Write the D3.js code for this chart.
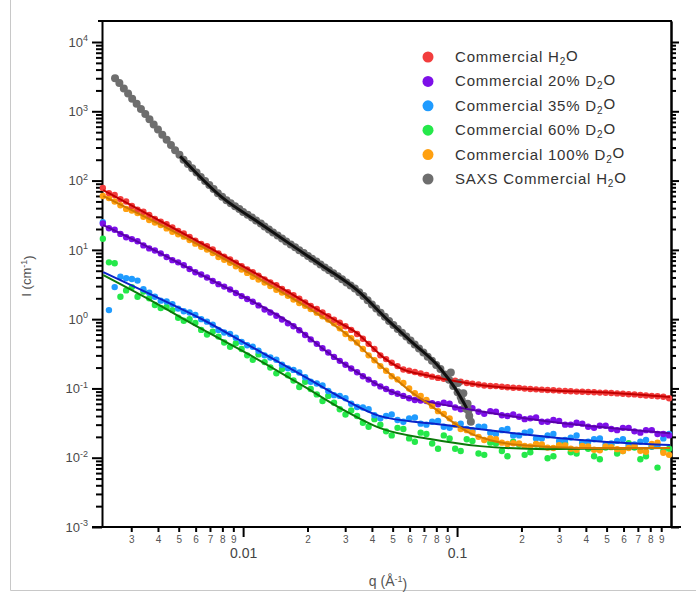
<!DOCTYPE html>
<html>
<head>
<meta charset="utf-8">
<script src="https://cdn.jsdelivr.net/npm/d3@7"></script>
<style>
  body { margin: 0; background: #fff; }
  svg { display: block; font-family: "Liberation Sans", Arial, sans-serif; }
</style>
</head>
<body>
<div id="chart"></div>
<script>
// SANS q values (1/A), two interleaved sets of detector points
const qGrid = [0.00221, 0.00251, 0.00284, 0.00321, 0.00364, 0.00412, 0.00467, 0.00528, 0.00598, 0.00678,
  0.00767, 0.00869, 0.00984, 0.0111, 0.0126, 0.0143, 0.0162, 0.0183, 0.0207, 0.0235,
  0.0266, 0.0301, 0.0341, 0.0386, 0.0438, 0.0495, 0.0561, 0.0635, 0.0719, 0.0815,
  0.0923, 0.104, 0.118, 0.134, 0.152, 0.172, 0.195, 0.220, 0.249, 0.282,
  0.320, 0.362, 0.410, 0.465, 0.526, 0.596, 0.675, 0.764, 0.865, 0.980];
const qMid = [0.00236, 0.00267, 0.00302, 0.00342, 0.00387, 0.00439, 0.00497, 0.00562, 0.00637, 0.00721,
  0.00816, 0.00925, 0.01045, 0.0118, 0.0134, 0.0152, 0.0172, 0.0195, 0.0221, 0.0250,
  0.0283, 0.0320, 0.0363, 0.0411, 0.0466, 0.0527, 0.0597, 0.0676, 0.0765, 0.0867,
  0.0980, 0.111, 0.126, 0.143, 0.162, 0.183, 0.207, 0.234, 0.265, 0.300,
  0.340, 0.385, 0.437, 0.495, 0.560, 0.634, 0.719, 0.813, 0.921];

const redI = [78, 62, 50, 38, 32, 25.5, 21, 17.2, 13.6, 11.3,
  8.9, 7.3, 5.8, 4.75, 3.75, 3.08, 2.44, 1.98, 1.55, 1.25,
  0.98, 0.79, 0.61, 0.44, 0.30, 0.235, 0.188, 0.173, 0.156, 0.142,
  0.134, 0.125, 0.117, 0.110, 0.108, 0.104, 0.102, 0.098, 0.096, 0.094,
  0.092, 0.090, 0.089, 0.087, 0.086, 0.084, 0.082, 0.079, 0.077, 0.072];
const redMid = [66, 54, 43, 35.5, 28, 23.5, 18.8, 15.4, 12.2, 10.1,
  8.0, 6.5, 5.2, 4.25, 3.38, 2.72, 2.21, 1.74, 1.40, 1.10,
  0.885, 0.70, 0.52, 0.37, 0.265, 0.21, 0.180, 0.164, 0.148, 0.138,
  0.129, 0.120, 0.114, 0.1085, 0.106, 0.1025, 0.0995, 0.097, 0.0948, 0.093,
  0.091, 0.0895, 0.088, 0.0866, 0.0848, 0.0826, 0.0805, 0.0782, 0.076];

const purpleI = [24, 19.5, 15.2, 13.3, 10.5, 8.9, 7.1, 6.0, 4.75, 4.0,
  3.2, 2.68, 2.15, 1.78, 1.38, 1.12, 0.87, 0.69, 0.51, 0.38,
  0.285, 0.22, 0.171, 0.134, 0.107, 0.089, 0.078, 0.068, 0.066, 0.059,
  0.060, 0.050, 0.052, 0.043, 0.046, 0.040, 0.039, 0.037, 0.033, 0.035,
  0.030, 0.032, 0.028, 0.029, 0.026, 0.027, 0.024, 0.025, 0.022, 0.021];
const purpleMid = [20.5, 17.0, 14.3, 11.6, 9.8, 7.9, 6.6, 5.3, 4.4, 3.55,
  2.95, 2.38, 1.95, 1.58, 1.25, 0.99, 0.79, 0.59, 0.44, 0.33,
  0.25, 0.194, 0.15, 0.119, 0.098, 0.084, 0.072, 0.067, 0.061, 0.062,
  0.053, 0.054, 0.046, 0.047, 0.041, 0.042, 0.036, 0.038, 0.033, 0.034,
  0.030, 0.031, 0.027, 0.029, 0.025, 0.027, 0.023, 0.025, 0.022];

const blueI = [25, 2.9, 3.9, 3.6, 2.4, 1.85, 1.65, 1.30, 1.15, 0.92,
  0.70, 0.61, 0.47, 0.40, 0.30, 0.26, 0.195, 0.17, 0.125, 0.11,
  0.08, 0.072, 0.054, 0.05, 0.037, 0.042, 0.033, 0.038, 0.030, 0.034,
  0.027, 0.031, 0.025, 0.028, 0.022, 0.026, 0.021, 0.024, 0.019, 0.022,
  0.018, 0.021, 0.017, 0.019, 0.016, 0.0185, 0.0155, 0.018, 0.015, 0.022];
const blueMid = [1.35, 4.1, 3.8, 2.7, 2.1, 1.80, 1.42, 1.25, 1.0, 0.83,
  0.64, 0.54, 0.42, 0.35, 0.28, 0.22, 0.185, 0.145, 0.118, 0.092,
  0.078, 0.06, 0.053, 0.041, 0.040, 0.035, 0.037, 0.031, 0.033, 0.028,
  0.030, 0.026, 0.028, 0.023, 0.025, 0.021, 0.023, 0.019, 0.021, 0.0175,
  0.0195, 0.0165, 0.0185, 0.0155, 0.0175, 0.015, 0.017, 0.0145, 0.019];

const greenI = [14.5, 6.4, 2.6, 2.1, 2.0, 1.45, 1.35, 0.95, 0.88, 0.60,
  0.56, 0.40, 0.37, 0.26, 0.24, 0.165, 0.155, 0.105, 0.098, 0.066,
  0.062, 0.042, 0.040, 0.028, 0.030, 0.021, 0.026, 0.017, 0.022, 0.0135,
  0.019, 0.0125, 0.0175, 0.011, 0.016, 0.0105, 0.0155, 0.012, 0.0145, 0.0105,
  0.016, 0.0115, 0.0135, 0.0095, 0.0155, 0.0125, 0.014, 0.0105, 0.0072, 0.0135];
const greenMid = [6.6, 2.1, 2.9, 2.5, 1.6, 1.5, 1.05, 1.0, 0.7, 0.66,
  0.46, 0.45, 0.30, 0.31, 0.20, 0.19, 0.13, 0.125, 0.082, 0.078,
  0.05, 0.048, 0.032, 0.036, 0.024, 0.027, 0.019, 0.023, 0.016, 0.021,
  0.0135, 0.0185, 0.0115, 0.0165, 0.0125, 0.017, 0.011, 0.0155, 0.0098, 0.015,
  0.012, 0.0165, 0.0105, 0.014, 0.0115, 0.0162, 0.0095, 0.0145, 0.0125];

const orangeI = [60, 50, 39, 34, 27, 22.8, 18.3, 15.5, 12.3, 10.1,
  7.9, 6.5, 5.2, 4.1, 3.38, 2.65, 2.17, 1.71, 1.40, 1.10,
  0.87, 0.61, 0.46, 0.30, 0.21, 0.15, 0.12, 0.085, 0.068, 0.047,
  0.037, 0.026, 0.023, 0.018, 0.0185, 0.0158, 0.016, 0.0145, 0.0155, 0.0138,
  0.015, 0.013, 0.0145, 0.0128, 0.0142, 0.0125, 0.0148, 0.0122, 0.0165, 0.011];
const orangeMid = [56, 44, 37, 30, 24.8, 20.4, 16.8, 13.9, 11.1, 9.0,
  7.2, 5.8, 4.65, 3.72, 3.0, 2.42, 1.92, 1.56, 1.24, 0.99,
  0.74, 0.53, 0.37, 0.255, 0.18, 0.135, 0.10, 0.078, 0.056, 0.043,
  0.030, 0.025, 0.020, 0.019, 0.0165, 0.0162, 0.0148, 0.0158, 0.014, 0.0152,
  0.0135, 0.0148, 0.013, 0.0145, 0.0133, 0.0138, 0.0126, 0.0158, 0.0118];

// SAXS data (own q range)
const saxsQ = [0.00252, 0.00264, 0.00277, 0.00290, 0.00303, 0.00318, 0.00333, 0.00349, 0.00365, 0.00382,
  0.00400, 0.00419, 0.00439, 0.00460, 0.00481, 0.00504, 0.00527, 0.00552, 0.00578, 0.00606,
  0.00634, 0.00664, 0.00695, 0.00728, 0.00762, 0.00798, 0.00836, 0.00875, 0.00917, 0.00960,
  0.0100, 0.0105, 0.0110, 0.0115, 0.0121, 0.0126, 0.0132, 0.0138, 0.0145, 0.0152,
  0.0159, 0.0167, 0.0175, 0.0183, 0.0192, 0.0201, 0.0210, 0.0220, 0.0230, 0.0241,
  0.0252, 0.0264, 0.0277, 0.0290, 0.0304, 0.0318, 0.0333, 0.0349, 0.0365, 0.0382,
  0.0400, 0.0419, 0.0439, 0.0460, 0.0481, 0.0504, 0.0528, 0.0553, 0.0579, 0.0606,
  0.0634, 0.0664, 0.0696, 0.0729, 0.0763, 0.0799, 0.0836, 0.0876, 0.0917, 0.0960,
  0.1006, 0.1053, 0.1103, 0.0935, 0.097, 0.101, 0.104, 0.107, 0.109, 0.112, 0.114, 0.116, 0.113];
const saxsI = [3000, 2550, 2130, 1800, 1520, 1281, 1080, 911, 769, 647,
  544, 459, 387, 326, 275, 235, 200, 174, 151, 131,
  113, 98.8, 86.4, 75.4, 65.8, 58.4, 51.8, 47.0, 42.7, 38.8,
  35.2, 32.1, 29.2, 26.5, 24.0, 21.7, 19.6, 17.8, 16.1, 14.6,
  13.2, 12.0, 10.9, 9.9, 8.99, 8.18, 7.44, 6.77, 6.16, 5.58,
  5.06, 4.58, 4.15, 3.75, 3.39, 3.06, 2.77, 2.44, 2.15, 1.87,
  1.63, 1.42, 1.24, 1.08, 0.94, 0.823, 0.72, 0.635, 0.56, 0.491,
  0.43, 0.377, 0.33, 0.287, 0.25, 0.218, 0.19, 0.159, 0.133, 0.108,
  0.088, 0.067, 0.051, 0.17, 0.115, 0.12, 0.075, 0.085, 0.055, 0.06, 0.04, 0.033, 0.048];

// model fits (knots)
const redFitQ = [0.00222, 0.00565, 0.0166, 0.0229, 0.0284, 0.0341, 0.0392, 0.0451, 0.0542, 0.0748, 0.128, 0.263, 0.536, 0.989];
const redFitI = [72.7, 15.3, 2.37, 1.31, 0.878, 0.628, 0.421, 0.283, 0.196, 0.151, 0.112, 0.0945, 0.0858, 0.075];
const purpleFitQ = [0.00222, 0.00368, 0.0063, 0.0108, 0.0166, 0.0255, 0.0352, 0.0437, 0.0542, 0.0748, 0.128, 0.263, 0.536, 0.989];
const purpleFitI = [22.7, 10.6, 4.46, 1.88, 0.876, 0.313, 0.161, 0.108, 0.080, 0.0634, 0.047, 0.0337, 0.0267, 0.0226];
const blueFitQ = [0.00222, 0.00368, 0.0063, 0.0108, 0.0185, 0.0284, 0.0437, 0.0898, 0.183, 0.376, 0.989];
const blueFitI = [4.77, 2.30, 1.03, 0.408, 0.161, 0.0749, 0.0398, 0.0295, 0.0226, 0.018, 0.0152];
const greenFitQ = [0.00222, 0.00368, 0.0063, 0.0108, 0.0185, 0.0284, 0.0437, 0.0748, 0.128, 0.263, 0.989];
const greenFitI = [4.31, 1.88, 0.742, 0.302, 0.115, 0.052, 0.0267, 0.0186, 0.0147, 0.0133, 0.0138];
const orangeFitQ = [0.00222, 0.00565, 0.0166, 0.0206, 0.0255, 0.0316, 0.0392, 0.0486, 0.0603, 0.0748,
  0.0928, 0.115, 0.143, 0.197, 0.376, 0.989];
const orangeFitI = [59.6, 13.8, 2.08, 1.39, 0.905, 0.55, 0.292, 0.161, 0.0914, 0.0574,
  0.0349, 0.0226, 0.0179, 0.0152, 0.0138, 0.0138];
const saxsFitQ = [0.00508, 0.00806, 0.0116, 0.0166, 0.0236, 0.0341, 0.0486, 0.0623, 0.0833, 0.0979, 0.111];
const saxsFitI = [225, 55.7, 25.9, 12.1, 5.82, 2.62, 0.905, 0.450, 0.196, 0.101, 0.052];

const legendLabels = ["Commercial H2O", "Commercial 20% D2O", "Commercial 35% D2O",
  "Commercial 60% D2O", "Commercial 100% D2O", "SAXS Commercial H2O"];
const legendColors = ["#f23d3d", "#7d10e8", "#1f9bff", "#25e84a", "#ffa010", "#6e6e6e"];
const yExponents = [-3, -2, -1, 0, 1, 2, 3, 4];
const xMajor = [0.01, 0.1], xMajorLabels = ["0.01", "0.1"];

const width = 696, height = 597;
const plot = {left: 102, right: 671, top: 21, bottom: 527};

const svg = d3.select("#chart").append("svg")
  .attr("width", width)
  .attr("height", height);

// light frame around the figure
svg.append("path").attr("d", "M10.5,0V590.5H696")
  .attr("fill", "none").attr("stroke", "#c8c8c8");

const x = d3.scaleLog().domain([0.00219, 1.0]).range([plot.left, plot.right]);
const y = d3.scaleLog().domain([1e-3, 2.01e4]).range([plot.bottom, plot.top]);

const decades = yExponents.map(e => Math.pow(10, e));
const isDecade = v => Math.abs(Math.log10(v) - Math.round(Math.log10(v))) < 1e-6;
const yMinor = y.ticks().filter(v => !isDecade(v) && v < 1e4);
const xMinor = x.ticks().filter(v => !isDecade(v));

function styleAxis(g) {
  g.selectAll("path, line").attr("stroke", "#000").attr("stroke-width", 2);
}

// left axis
svg.append("g").attr("transform", `translate(${plot.left},0)`)
  .call(d3.axisLeft(y).tickValues(yMinor).tickSize(6).tickSizeOuter(0).tickFormat(""))
  .call(styleAxis);
const yMaj = svg.append("g").attr("transform", `translate(${plot.left},0)`)
  .call(d3.axisLeft(y).tickValues(decades).tickSize(10).tickPadding(4).tickSizeOuter(0))
  .call(styleAxis);
yMaj.select(".domain").remove();
yMaj.selectAll(".tick text")
  .attr("font-size", 13).attr("fill", "#4a4a4a").attr("font-family", "Liberation Sans, Arial, sans-serif")
  .each(function(d) {
    const t = d3.select(this).text(null);
    t.append("tspan").text("10");
    t.append("tspan").attr("dy", "-0.6em").attr("font-size", 9).text(Math.round(Math.log10(d)));
  });

// right axis (mirror, no labels)
svg.append("g").attr("transform", `translate(${plot.right},0)`)
  .call(d3.axisRight(y).tickValues(yMinor).tickSize(5).tickSizeOuter(0).tickFormat(""))
  .call(styleAxis);
svg.append("g").attr("transform", `translate(${plot.right},0)`)
  .call(d3.axisRight(y).tickValues(decades).tickSize(8).tickSizeOuter(0).tickFormat(""))
  .call(styleAxis);

// top line
svg.append("line").attr("x1", plot.left - 4).attr("x2", plot.right + 1)
  .attr("y1", plot.top).attr("y2", plot.top).attr("stroke", "#000").attr("stroke-width", 2);

// bottom axis
const xMin = svg.append("g").attr("transform", `translate(0,${plot.bottom})`)
  .call(d3.axisBottom(x).tickValues(xMinor).tickSize(5).tickPadding(4).tickSizeOuter(0)
    .tickFormat(d => Math.round(d / Math.pow(10, Math.floor(Math.log10(d) + 1e-9)))))
  .call(styleAxis);
xMin.selectAll(".tick text").attr("font-size", 10).attr("fill", "#555")
  .attr("font-family", "Liberation Sans, Arial, sans-serif");
xMin.select(".domain").attr("d", `M${plot.left - 10},0H${plot.right + 10}`);

const xMaj = svg.append("g").attr("transform", `translate(0,${plot.bottom})`)
  .call(d3.axisBottom(x).tickValues(xMajor).tickSize(10).tickPadding(11).tickSizeOuter(0)
    .tickFormat((d, i) => xMajorLabels[i]))
  .call(styleAxis);
xMaj.select(".domain").remove();
xMaj.selectAll(".tick text").attr("font-size", 14).attr("fill", "#444")
  .attr("font-family", "Liberation Sans, Arial, sans-serif");

// axis titles
const yTitle = svg.append("text").attr("transform", "translate(31,276) rotate(-90)")
  .attr("text-anchor", "middle").attr("font-size", 13).attr("fill", "#555");
yTitle.append("tspan").text("I (cm");
yTitle.append("tspan").attr("dy", "-0.5em").attr("font-size", 9).text("-1");
yTitle.append("tspan").attr("dy", "0.5em").text(")");

const xTitle = svg.append("text").attr("x", 388).attr("y", 586)
  .attr("text-anchor", "middle").attr("font-size", 14).attr("fill", "#555");
xTitle.append("tspan").text("q (\u00c5");
xTitle.append("tspan").attr("dy", "-0.5em").attr("font-size", 9).text("-1");
xTitle.append("tspan").attr("dy", "0.5em").text(")");

// data points
const pairs = (qs, vs) => qs.map((q, i) => [q, vs[i]]);
const dotSets = [
  {pts: pairs(qGrid, greenI).concat(pairs(qMid, greenMid)), color: "#25e84a", r: 3.2},
  {pts: pairs(qGrid, blueI).concat(pairs(qMid, blueMid)), color: "#1f9bff", r: 3.2},
  {pts: pairs(qGrid, purpleI).concat(pairs(qMid, purpleMid)), color: "#7d10e8", r: 3.2},
  {pts: pairs(qGrid, orangeI).concat(pairs(qMid, orangeMid)), color: "#ffa010", r: 3.2},
  {pts: pairs(qGrid, redI).concat(pairs(qMid, redMid)), color: "#f23d3d", r: 3.2},
  {pts: pairs(saxsQ, saxsI), color: "#6e6e6e", r: 4}
];
dotSets.forEach(s => {
  svg.append("g").selectAll("circle")
    .data(s.pts)
    .join("circle")
    .attr("cx", d => x(d[0]))
    .attr("cy", d => y(d[1]))
    .attr("r", s.r)
    .attr("fill", s.color);
});

// fit lines
const line = d3.line().x(d => x(d[0])).y(d => y(d[1])).curve(d3.curveMonotoneX);
const fits = [
  {q: greenFitQ, I: greenFitI, color: "#0a7a0a", w: 2},
  {q: blueFitQ, I: blueFitI, color: "#0a22c8", w: 2},
  {q: purpleFitQ, I: purpleFitI, color: "#5a00a8", w: 2},
  {q: orangeFitQ, I: orangeFitI, color: "#cf7800", w: 2},
  {q: redFitQ, I: redFitI, color: "#c00000", w: 2},
  {q: saxsFitQ, I: saxsFitI, color: "#111", w: 3}
];
fits.forEach(f => {
  svg.append("path")
    .datum(pairs(f.q, f.I))
    .attr("d", line)
    .attr("fill", "none")
    .attr("stroke", f.color)
    .attr("stroke-width", f.w);
});

// legend
const legend = svg.append("g");
legendLabels.forEach((lab, i) => {
  const ly = 57 + i * 24.4;
  legend.append("circle").attr("cx", 428).attr("cy", ly).attr("r", 5.5).attr("fill", legendColors[i]);
  const t = legend.append("text").attr("x", 455).attr("y", ly + 5)
    .attr("font-size", 15).attr("letter-spacing", 0.8).attr("fill", "#333");
  t.append("tspan").text(lab.slice(0, -2));
  t.append("tspan").attr("dy", "0.3em").attr("font-size", 10).text("2");
  t.append("tspan").attr("dy", "-0.3em").text("O");
});
</script>
</body>
</html>
